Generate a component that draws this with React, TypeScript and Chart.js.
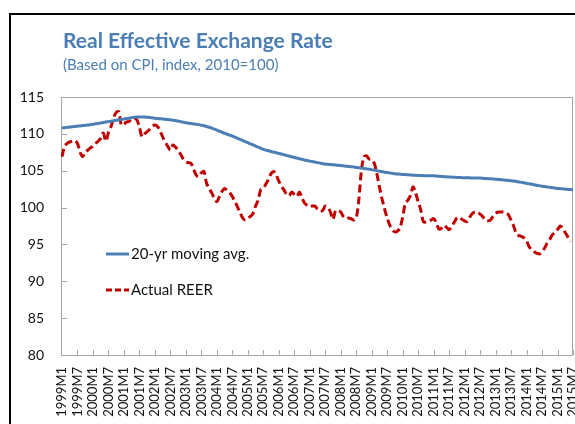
import React, { useEffect, useRef } from "react";
import { Chart, registerables } from "chart.js";
Chart.register(...registerables);

const TITLE = "Real Effective Exchange Rate";
const SUBTITLE = "(Based on CPI, index, 2010=100)";
const SERIES_NAMES = ["20-yr moving avg.", "Actual REER"];

const FIRST_YEAR = 1999;
const MONTH_COUNT = 199; // 1999M1 .. 2015M7
const LABEL_EVERY = 6;
const monthLabels: string[] = Array.from(
  { length: MONTH_COUNT },
  (_, i) => `${FIRST_YEAR + Math.floor(i / 12)}M${(i % 12) + 1}`
);

const Y_MIN = 80;
const Y_MAX = 115;
const Y_STEP = 5;
const yTickValues = [80, 85, 90, 95, 100, 105, 110, 115];

// 20-yr moving average, monthly from 1999M1
const movingAvg = [
  110.8, 110.84, 110.88, 110.92, 110.96, 111.0, 111.04, 111.08, 111.12, 111.16, 111.2, 111.25,
  111.3, 111.36, 111.42, 111.48, 111.54, 111.6, 111.66, 111.72, 111.78, 111.84, 111.9, 111.95,
  112.0, 112.07, 112.13, 112.2, 112.25, 112.28, 112.3, 112.3, 112.28, 112.25, 112.22, 112.18,
  112.1, 112.08, 112.05, 112.02, 111.98, 111.94, 111.9, 111.86, 111.8, 111.73, 111.66, 111.58,
  111.5, 111.45, 111.4, 111.35, 111.3, 111.25, 111.18, 111.1, 111.0, 110.9, 110.78, 110.65,
  110.5, 110.36, 110.22, 110.08, 109.95, 109.82, 109.7, 109.55, 109.4, 109.25, 109.1, 108.95,
  108.8, 108.65, 108.5, 108.35, 108.2, 108.05, 107.9, 107.8, 107.7, 107.6, 107.52, 107.44,
  107.35, 107.26, 107.17, 107.08, 106.98, 106.89, 106.8, 106.72, 106.63, 106.55, 106.46, 106.38,
  106.3, 106.24, 106.17, 106.1, 106.03, 105.96, 105.9, 105.87, 105.84, 105.81, 105.78, 105.74,
  105.7, 105.66, 105.62, 105.58, 105.54, 105.5, 105.45, 105.4, 105.35, 105.3, 105.25, 105.2,
  105.15, 105.08, 105.01, 104.94, 104.87, 104.8, 104.75, 104.7, 104.65, 104.6, 104.56, 104.53,
  104.5, 104.48, 104.45, 104.42, 104.4, 104.37, 104.35, 104.34, 104.33, 104.32, 104.31, 104.3,
  104.3, 104.28, 104.25, 104.22, 104.19, 104.17, 104.15, 104.13, 104.11, 104.09, 104.08, 104.06,
  104.05, 104.04, 104.03, 104.02, 104.01, 104.0, 104.0, 103.98, 103.95, 103.92, 103.9, 103.88,
  103.85, 103.82, 103.78, 103.75, 103.72, 103.68, 103.65, 103.6, 103.54, 103.48, 103.42, 103.36,
  103.3, 103.23, 103.16, 103.09, 103.02, 102.96, 102.9, 102.85, 102.8, 102.75, 102.7, 102.65,
  102.6, 102.57, 102.54, 102.5, 102.47, 102.44, 102.4,
];

// Actual REER, monthly from 1999M1
const actualReer: (number | null)[] = [
  106.9, 108.3, 108.7, 108.9, 109.0, 109.1, 108.7, 107.5, 106.9, 107.5, 107.8, 108.1,
  108.3, 108.7, 109.0, 109.4, 110.1, 109.0, 110.2, 111.0, 112.2, 112.9, 113.0, 111.2,
  111.3, 111.6, 111.7, 112.0, 112.1, 111.9, 110.9, 109.6, 110.0, 110.3, 110.6, 111.0,
  111.2, 111.0, 110.4, 109.6, 108.9, 108.3, 107.8, 108.5, 108.2, 107.8, 107.2, 106.6,
  106.2, 106.1, 106.0, 105.2, 104.4, 104.2, 104.7, 104.9, 103.3, 102.6, 102.0, 101.3,
  100.8, 101.5, 102.2, 102.6, 102.3, 102.0, 101.5, 100.8, 100.1, 99.3, 98.6, 98.3,
  98.6, 98.8, 99.2, 100.2, 101.0, 102.4, 102.6, 103.2, 103.8, 104.6, 104.9, 104.4,
  103.6, 102.9, 102.4, 101.8, 101.6, 102.1, 101.8, 101.5, 102.1, 101.3, 100.6, 100.3,
  100.1, 100.2, 100.2, 99.8, 99.5, 99.6, 100.2, 100.0, 99.4, 98.4, 99.6, 99.6,
  99.4, 98.8, 98.5, 98.6, 98.5, 98.3, 98.6, 101.0, 105.0, 106.9, 107.0, 106.6,
  106.5, 106.0, 104.6, 102.8, 101.2, 99.8, 98.6, 97.6, 97.0, 96.7, 96.8, 97.3,
  98.7, 100.5, 101.0, 101.6, 102.8, 102.0, 100.8, 99.7, 98.1, 98.0, 98.1, 98.3,
  98.5, 98.0, 97.1, 97.2, 97.6, 97.3, 97.0, 97.5, 98.0, 98.6, 98.7, 98.4,
  98.2, 98.1, 98.7, 99.2, 99.4, 99.4, 99.1, 98.8, 98.3, 98.2, 98.3, 98.8,
  99.2, 99.4, 99.4, 99.4, 99.3, 99.0, 98.3, 97.5, 96.5, 96.2, 96.1, 95.9,
  95.5, 94.7, 94.3, 94.0, 93.8, 93.7, 94.0, 94.5, 95.2, 95.7, 96.3, 96.6,
  97.0, 97.5, 97.2, 96.6, 96.0, 95.4, null,
];

const BLUE = "#4a7eb4";
const RED = "#c00000";
const TITLE_COLOR = "#4a7eb4";
const AXIS_COLOR = "#a6a6a6";
const FONT = "Lato";

const decor = {
  id: "decor",
  beforeDatasetsDraw(chart: any) {
    const { ctx, chartArea: a } = chart;
    ctx.save();
    ctx.strokeStyle = AXIS_COLOR;
    ctx.lineWidth = 1;
    const l = Math.round(a.left) - 0.5;
    const t = Math.round(a.top) + 0.5;
    const r = Math.round(a.right) - 0.5;
    const b = Math.round(a.bottom) + 0.5;
    ctx.strokeRect(l, t, r - l, b - t);
    ctx.restore();
  },
  afterDraw(chart: any) {
    const { ctx, chartArea: a, scales } = chart;
    const x = scales.x;
    const y = scales.y;
    ctx.save();
    // inner tick marks
    ctx.strokeStyle = AXIS_COLOR;
    ctx.lineWidth = 1;
    ctx.beginPath();
    yTickValues.forEach((v) => {
      const py = Math.round(y.getPixelForValue(v)) + 0.5;
      ctx.moveTo(a.left, py);
      ctx.lineTo(a.left + 5, py);
    });
    monthLabels.forEach((_, i) => {
      if (i > 0 && i % LABEL_EVERY === 0) {
        const px = Math.round(x.getPixelForValue(i)) + 0.5;
        ctx.moveTo(px, a.bottom);
        ctx.lineTo(px, a.bottom - 5);
      }
    });
    ctx.stroke();

    // frame
    ctx.fillStyle = "#000";
    ctx.fillRect(9, 13, 2, 424);
    ctx.fillRect(9, 13, 600, 2);

    // title
    ctx.fillStyle = TITLE_COLOR;
    ctx.textBaseline = "alphabetic";
    ctx.textAlign = "left";
    ctx.font = `bold 21px ${FONT}`;
    ctx.fillText(TITLE, 63, 48);
    ctx.font = `15px ${FONT}`;
    ctx.fillText(SUBTITLE, 63, 70);

    // legend
    const items = [
      { name: SERIES_NAMES[0], color: BLUE, dash: [] as number[], y: 254 },
      { name: SERIES_NAMES[1], color: RED, dash: [6, 3], y: 290 },
    ];
    items.forEach((it) => {
      ctx.strokeStyle = it.color;
      ctx.lineWidth = 3;
      ctx.setLineDash(it.dash);
      ctx.beginPath();
      ctx.moveTo(106, it.y);
      ctx.lineTo(129, it.y);
      ctx.stroke();
      ctx.setLineDash([]);
      ctx.fillStyle = "#111";
      ctx.font = `15px ${FONT}`;
      ctx.textBaseline = "middle";
      ctx.fillText(it.name, 131, it.y);
    });
    ctx.restore();
  },
};

export default function App() {
  const ref = useRef<HTMLCanvasElement>(null);
  useEffect(() => {
    const chart = new Chart(ref.current as HTMLCanvasElement, {
      type: "line",
      data: {
        labels: monthLabels,
        datasets: [
          {
            label: SERIES_NAMES[0],
            data: movingAvg,
            borderColor: BLUE,
            borderWidth: 3,
            pointRadius: 0,
            tension: 0.3,
          },
          {
            label: SERIES_NAMES[1],
            data: actualReer,
            borderColor: RED,
            borderWidth: 3,
            borderDash: [8, 4],
            pointRadius: 0,
            tension: 0.3,
          },
        ],
      },
      options: {
        animation: false,
        responsive: false,
        layout: { padding: { top: 97, right: 2, left: 0, bottom: 0 } },
        plugins: { legend: { display: false }, tooltip: { enabled: false } },
        scales: {
          x: {
            offset: false,
            grid: { display: false, drawTicks: false },
            border: { display: false },
            ticks: {
              autoSkip: false,
              maxRotation: 90,
              minRotation: 90,
              padding: 12,
              color: "#111",
              font: { family: FONT, size: 13 },
              callback: (_v: any, i: number) =>
                i % LABEL_EVERY === 0 ? monthLabels[i] : null,
            },
            afterFit: (s: any) => {
              s.height = 69;
              s.paddingLeft = 0;
              s.paddingRight = 0;
            },
          },
          y: {
            min: Y_MIN,
            max: Y_MAX,
            grid: { display: false, drawTicks: false },
            border: { display: false },
            ticks: {
              stepSize: Y_STEP,
              padding: 18,
              color: "#111",
              font: { family: FONT, size: 14 },
            },
            afterFit: (s: any) => {
              s.width = 62;
              s.paddingTop = 0;
              s.paddingBottom = 0;
            },
          },
        },
      },
      plugins: [decor],
    } as any);
    return () => chart.destroy();
  }, []);
  return (
    <div
      style={{
        position: "fixed",
        left: 0,
        top: 0,
        width: 575,
        height: 424,
        overflow: "hidden",
        background: "#fff",
      }}
    >
      <canvas ref={ref} width={575} height={424} style={{ display: "block" }} />
    </div>
  );
}
